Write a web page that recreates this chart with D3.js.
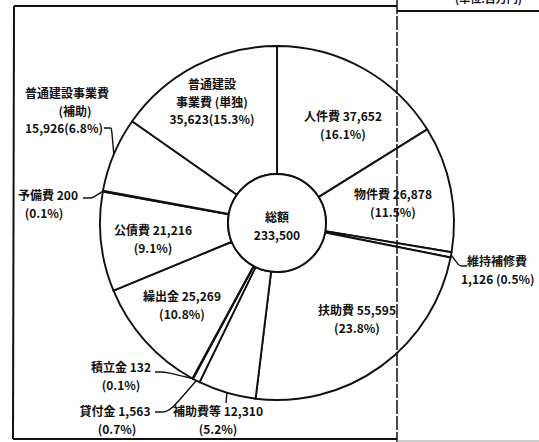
<!DOCTYPE html>
<html><head><meta charset="utf-8">
<script src="https://cdn.jsdelivr.net/npm/d3@7"></script>
<style>
html,body{margin:0;padding:0;background:#fff;}
text{font-family:"Noto Sans CJK JP","Noto Sans",sans-serif;font-weight:700;fill:#111;}
</style></head>
<body>
<svg id="c" width="539" height="442"></svg>
<script>
// ---- data ----
const categories = ["人件費","物件費","維持補修費","扶助費","補助費等","貸付金","積立金","繰出金","公債費","予備費","普通建設事業費（補助）","普通建設事業費（単独）"];
const values = [37652, 26878, 1126, 55595, 12310, 1563, 132, 25269, 21216, 200, 15926, 35623];
const percents = ["16.1","11.5","0.5","23.8","5.2","0.7","0.1","10.8","9.1","0.1","6.8","15.3"];
const totalLabel = ["総額","233,500"];
const unitLabel = "(単位:百万円)";

// label text lines per slice
const labelLines = [
  ["人件費 37,652","(16.1%)"],
  ["物件費 26,878","(11.5%)"],
  ["維持補修費","1,126 (0.5%)"],
  ["扶助費 55,595","(23.8%)"],
  ["補助費等 12,310","(5.2%)"],
  ["貸付金 1,563","(0.7%)"],
  ["積立金 132","(0.1%)"],
  ["繰出金 25,269","(10.8%)"],
  ["公債費 21,216","(9.1%)"],
  ["予備費 200","(0.1%)"],
  ["普通建設事業費","(補助)","15,926(6.8%)"],
  ["普通建設","事業費 (単独)","35,623(15.3%)"]
];

// ---- layout (not data) ----
const cx = 277, cy = 223, R = 177, r0 = 49;
const LH = 17.5, FS = 12;
const labelPos = [
  {x:343,y:117,a:"middle"},
  {x:393,y:195,a:"middle"},
  {x:467,y:262,a:"start",x2:461},
  {x:357,y:311,a:"middle"},
  {x:218,y:412,a:"middle"},
  {x:115,y:412,a:"middle",x2:117},
  {x:121,y:368,a:"middle"},
  {x:182,y:297,a:"middle"},
  {x:153,y:231,a:"middle"},
  {x:48,y:196,a:"middle",x2:44},
  {x:67,y:94,a:"middle",x2:75,x3:64},
  {x:212,y:85,a:"middle"}
];
// leader line end points (label side)
const leaders = {
  2:[[461,266],[467,266]],
  4:[[226,403]],
  5:[[163,412],[155,412]],
  6:[[160,372],[155,372]],
  9:[[90,198],[83,198]],
  10:[[111,128],[104,128]]
};

const svg = d3.select("#c");
const g = svg.append("g").attr("transform",`translate(${cx},${cy})`);

const pie = d3.pie().sort(null).value(d=>d).startAngle(0).endAngle(2*Math.PI);
const arcs = pie(values);
const arc = d3.arc().innerRadius(r0).outerRadius(R);

g.selectAll("path.slice").data(arcs).enter().append("path")
  .attr("class","slice")
  .attr("d",arc)
  .attr("fill","#fff")
  .attr("stroke","#111")
  .attr("stroke-width",1.9)
  .attr("stroke-linejoin","round");

g.append("circle").attr("r",r0).attr("fill","#fff").attr("stroke","#111").attr("stroke-width",2);

g.append("text").attr("text-anchor","middle").attr("y",-5).attr("dy","0.35em").attr("font-size",FS).text(totalLabel[0]);
g.append("text").attr("text-anchor","middle").attr("y",-5+LH).attr("dy","0.35em").attr("font-size",FS).text(totalLabel[1]);

// leaders
Object.keys(leaders).forEach(k=>{
  const a = arcs[k];
  const m = (a.startAngle+a.endAngle)/2;
  const p0 = [cx + R*Math.sin(m), cy - R*Math.cos(m)];
  const pts = [p0].concat(leaders[k]);
  const path = pts.length>2
    ? [pts[0],[(pts[0][0]+pts[1][0])/2 + (pts[1][0]-pts[0][0])*0.3, pts[1][1]],pts[1],pts[2]]
    : pts;
  svg.append("path")
    .attr("d", d3.line().curve(d3.curveBasis)(path))
    .attr("fill","none").attr("stroke","#111").attr("stroke-width",1.4);
});

// labels
labelLines.forEach((lines,i)=>{
  const p = labelPos[i];
  lines.forEach((t,j)=>{
    let x = p.x;
    if (j===1 && p.x2!==undefined) x = p.x2;
    if (j===2 && p.x3!==undefined) x = p.x3;
    svg.append("text")
      .attr("x",x).attr("y",p.y + j*LH)
      .attr("dy","0.35em")
      .attr("text-anchor", p.a)
      .attr("font-size",FS)
      .text(t);
  });
});

// frame lines (scan border)
const frame = svg.append("g").attr("stroke","#111").attr("fill","none");
frame.append("line").attr("x1",14).attr("y1",6).attr("x2",397).attr("y2",6).attr("stroke-width",2);
frame.append("line").attr("x1",14).attr("y1",6).attr("x2",13).attr("y2",439).attr("stroke-width",2);
frame.append("line").attr("x1",13).attr("y1",439).attr("x2",397).attr("y2",439).attr("stroke-width",2);
frame.append("line").attr("x1",397).attr("y1",0).attr("x2",397).attr("y2",442).attr("stroke-width",1.5).attr("stroke-dasharray","14,2");
frame.append("line").attr("x1",397).attr("y1",11).attr("x2",539).attr("y2",11).attr("stroke-width",1.8);
frame.append("line").attr("x1",397).attr("y1",441).attr("x2",539).attr("y2",441).attr("stroke-width",1).attr("stroke","#999");

svg.append("text").attr("x",522).attr("y",3).attr("text-anchor","end").attr("font-size",11).text(unitLabel);
</script>
</body></html>
